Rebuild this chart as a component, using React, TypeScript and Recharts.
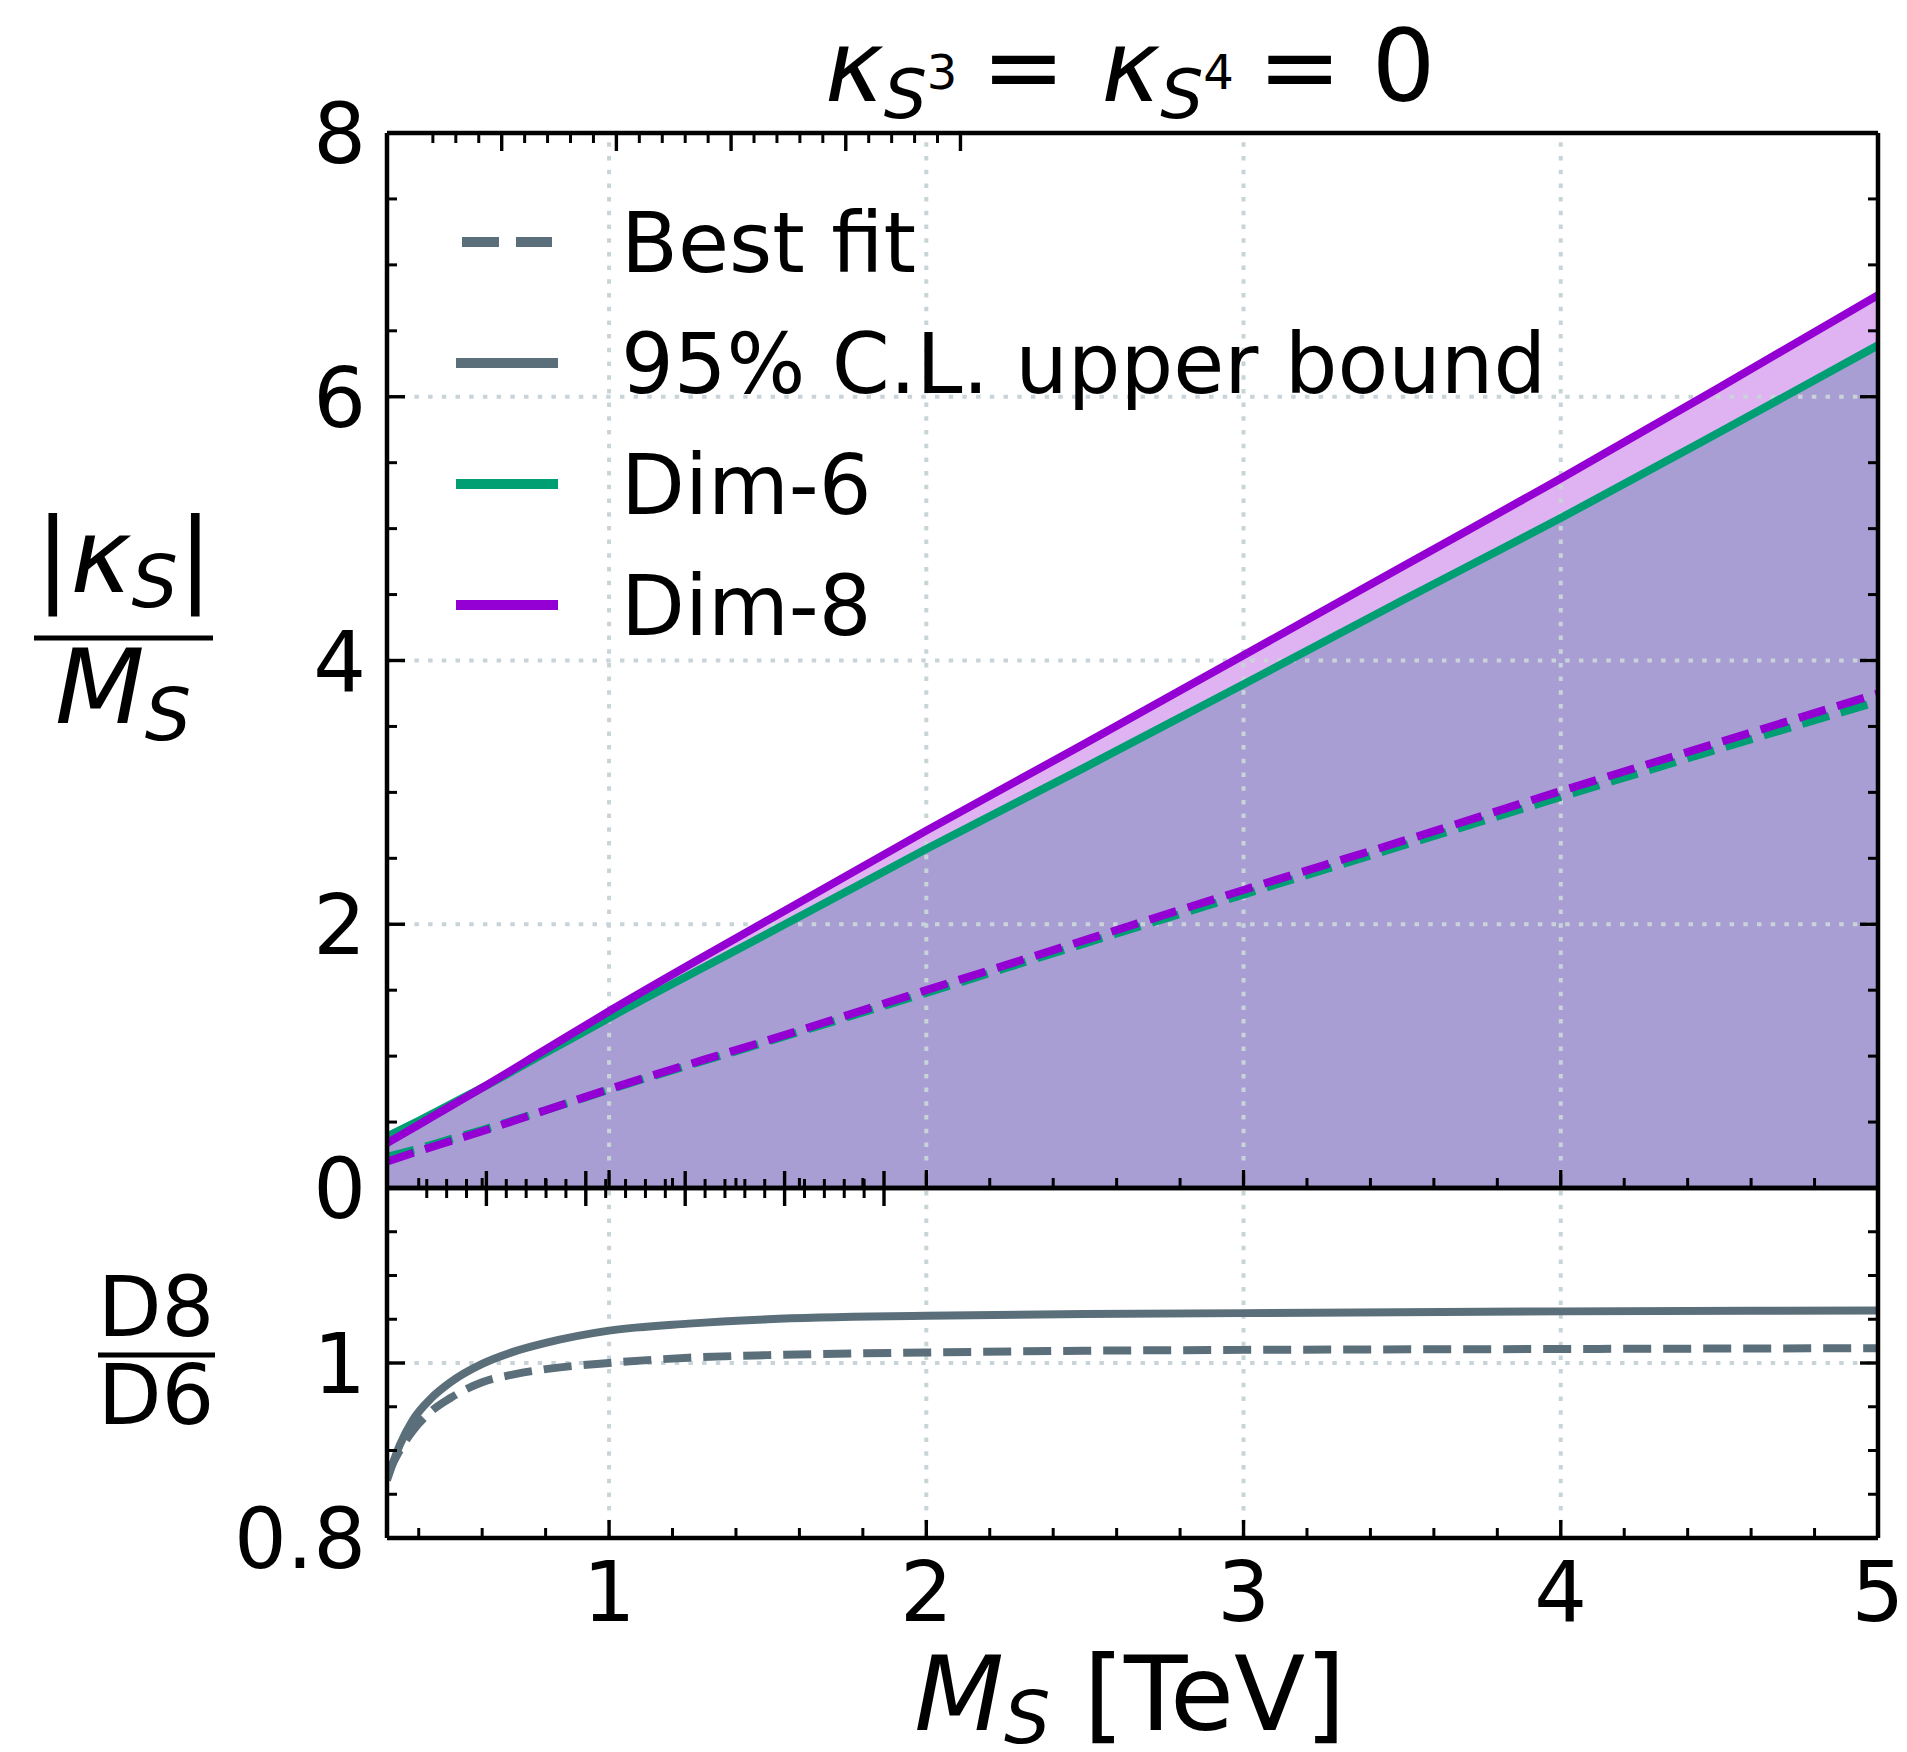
import React from 'react';
import { ComposedChart, Line, Area, XAxis, YAxis, ReferenceLine, Legend } from 'recharts';

const FONT = '"DejaVu Sans", "Noto Sans", sans-serif';

// Scalar mass M_S in TeV for the upper panel
const massGrid = [0.3, 0.4, 0.5, 0.6, 0.8, 1.0, 1.5, 2.0, 2.5, 3.0, 3.5, 4.0, 4.5, 5.0];
// |kappa_S| / M_S : 95% C.L. upper bounds
const dim6Upper = [0.39, 0.51, 0.635, 0.76, 1.025, 1.29, 1.93, 2.57, 3.19, 3.82, 4.455, 5.08, 5.73, 6.39];
const dim8Upper = [0.34, 0.48, 0.62, 0.76, 1.05, 1.34, 2.03, 2.71, 3.37, 4.04, 4.71, 5.38, 6.07, 6.77];
// |kappa_S| / M_S : best fit
const dim6Best = [0.235, 0.3, 0.37, 0.44, 0.59, 0.745, 1.11, 1.48, 1.855, 2.225, 2.595, 2.965, 3.33, 3.69];
const dim8Best = [0.2, 0.28, 0.355, 0.43, 0.59, 0.75, 1.12, 1.5, 1.88, 2.26, 2.63, 3.01, 3.38, 3.75];

// Ratio panel D8/D6
const ratioMass = [0.3, 0.34, 0.38, 0.44, 0.5, 0.6, 0.7, 0.8, 1.0, 1.25, 1.5, 2.0, 2.5, 3.0, 4.0, 5.0];
const ratioUpper = [0.866, 0.906, 0.934, 0.96, 0.978, 0.999, 1.013, 1.023, 1.037, 1.045, 1.05, 1.054, 1.056, 1.057, 1.059, 1.06];
const ratioBest = [0.872, 0.9, 0.922, 0.945, 0.96, 0.978, 0.987, 0.993, 1.0, 1.006, 1.009, 1.012, 1.014, 1.015, 1.016, 1.017];

// Axis ticks (ascending); majors are the labelled positions
const xTicksAll = [0.4, 0.6, 0.8, 1, 1.2, 1.4, 1.6, 1.8, 2, 2.2, 2.4, 2.6, 2.8, 3, 3.2, 3.4, 3.6, 3.8, 4, 4.2, 4.4, 4.6, 4.8, 5];
const xMajorTicks = [1, 2, 3, 4, 5];
const kappaTicksAll = [0, 0.5, 1, 1.5, 2, 2.5, 3, 3.5, 4, 4.5, 5, 5.5, 6, 6.5, 7, 7.5, 8];
const kappaMajorTicks = [0, 2, 4, 6, 8];
const ratioTicksAll = [0.8, 0.85, 0.9, 0.95, 1.0, 1.05, 1.1, 1.15, 1.2];
const ratioMajorTicks = [0.8, 1.0, 1.2];
const ratioLabelTicks = [0.8, 1.0];
const xGridLines = [1, 2, 3, 4];
const kappaGridLines = [2, 4, 6];
const ratioGridLines = [1.0];

const legendLabels = ['Best fit', '95% C.L. upper bound', 'Dim-6', 'Dim-8'];

const GRAY = '#5b6f7a';
const GREEN = '#009E73';
const PURPLE = '#9400D3';
const GRID = '#c9d4d9';
const LW = 8;

const upperData = massGrid.map((m, i) => ({
  m,
  dim6Upper: dim6Upper[i],
  dim8Upper: dim8Upper[i],
  dim6Best: dim6Best[i],
  dim8Best: dim8Best[i],
}));

const ratioData = ratioMass.map((m, i) => ({
  m,
  ratioUpper: ratioUpper[i],
  ratioBest: ratioBest[i],
}));

// 'shared' is the top edge of the ratio panel, whose ticks reach into both panels
type Side = 'bottom' | 'top' | 'shared' | 'left' | 'right';

const near = (list: number[], v: number) => list.some((t) => Math.abs(t - v) < 1e-6);

function makeTick(side: Side, majors: number[], labels: number[], fmt: (v: number) => string) {
  return function Tick(props: any) {
    const { x, y, payload } = props;
    const v = Number(payload.value);
    const isMajor = near(majors, v);
    const len = isMajor ? 18 : 10;
    const sw = isMajor ? 3.4 : 3;
    let y1 = y;
    let x2 = x;
    let y2 = y;
    if (side === 'bottom') y2 = y - len;
    else if (side === 'top') y2 = y + len;
    else if (side === 'shared') {
      y1 = y - len + 1;
      y2 = y + len;
    } else if (side === 'left') x2 = x + len;
    else x2 = x - len;
    const showLabel = near(labels, v);
    return (
      <g>
        <line x1={x} y1={y1} x2={x2} y2={y2} stroke="#000" strokeWidth={sw} />
        {showLabel && side === 'bottom' && (
          <text x={x} y={y + 83} textAnchor="middle" fontSize={83} fontFamily={FONT} fill="#000">
            {fmt(v)}
          </text>
        )}
        {showLabel && side === 'left' && (
          <text x={x - 21} y={y + 30} textAnchor="end" fontSize={83} fontFamily={FONT} fill="#000">
            {fmt(v)}
          </text>
        )}
      </g>
    );
  };
}

const fmtInt = (v: number) => String(Math.round(v));
const fmtRatio = (v: number) => (Math.abs(v - 1) < 1e-6 ? '1' : v.toFixed(1));

const axisLine = { stroke: '#000', strokeWidth: 4.5 };

// Axis boxes are 1px thick; the margins below are reduced by that amount
const AX = 1;

function LegendBox() {
  // rows: dashed gray, solid gray, green, purple
  const rows = [62, 183, 304, 425];
  const styles = [
    { stroke: GRAY, dash: '37 17', x1: 22, x2: 112 },
    { stroke: GRAY, dash: undefined, x1: 16, x2: 118 },
    { stroke: GREEN, dash: undefined, x1: 16, x2: 118 },
    { stroke: PURPLE, dash: undefined, x1: 16, x2: 118 },
  ];
  return (
    <svg width={1300} height={480} style={{ display: 'block', overflow: 'visible' }}>
      {legendLabels.map((label, i) => (
        <g key={label}>
          <line
            x1={styles[i].x1}
            x2={styles[i].x2}
            y1={rows[i]}
            y2={rows[i]}
            stroke={styles[i].stroke}
            strokeWidth={10}
            strokeDasharray={styles[i].dash}
          />
          <text x={181} y={rows[i] + 30} fontSize={83} fontFamily={FONT} fill="#000">
            {label}
          </text>
        </g>
      ))}
    </svg>
  );
}

function GridLines(xs: number[], ys: number[]) {
  return [
    ...xs.map((v) => (
      <ReferenceLine key={`gx${v}`} x={v} stroke={GRID} strokeWidth={4} strokeDasharray="4.5 9.2" />
    )),
    ...ys.map((v) => (
      <ReferenceLine key={`gy${v}`} y={v} stroke={GRID} strokeWidth={4} strokeDasharray="4.5 9.2" />
    )),
  ];
}

function Axes(props: {
  yDomain: [number, number];
  yTicks: number[];
  yMajors: number[];
  yLabels: number[];
  yFmt: (v: number) => string;
  xLabels: number[];
  topSide: Side;
}) {
  const { yDomain, yTicks, yMajors, yLabels, yFmt, xLabels, topSide } = props;
  return [
    <XAxis
      key="xb"
      dataKey="m"
      type="number"
      domain={[0.3, 5]}
      allowDataOverflow
      ticks={xTicksAll}
      interval={0}
      height={AX}
      tickSize={0}
      tickMargin={0}
      tickLine={false}
      axisLine={axisLine}
      tick={makeTick('bottom', xMajorTicks, xLabels, fmtInt)}
    />,
    <XAxis
      key="xt"
      xAxisId="top"
      orientation="top"
      type="number"
      domain={[0.3, 5]}
      allowDataOverflow
      ticks={xTicksAll}
      interval={0}
      height={AX}
      tickSize={0}
      tickMargin={0}
      tickLine={false}
      axisLine={axisLine}
      tick={makeTick(topSide, xMajorTicks, [], fmtInt)}
    />,
    <YAxis
      key="yl"
      type="number"
      domain={yDomain}
      allowDataOverflow
      ticks={yTicks}
      interval={0}
      width={AX}
      tickSize={0}
      tickMargin={0}
      tickLine={false}
      axisLine={axisLine}
      tick={makeTick('left', yMajors, yLabels, yFmt)}
    />,
    <YAxis
      key="yr"
      yAxisId="right"
      orientation="right"
      type="number"
      domain={yDomain}
      allowDataOverflow
      ticks={yTicks}
      interval={0}
      width={AX}
      tickSize={0}
      tickMargin={0}
      tickLine={false}
      axisLine={axisLine}
      tick={makeTick('right', yMajors, [], yFmt)}
    />,
  ];
}

function UpperPanel() {
  return (
    <ComposedChart
      width={1907}
      height={1260}
      data={upperData}
      margin={{ top: 133 - AX, right: 29 - AX, bottom: 72 - AX, left: 387 - AX }}
    >
      <Area dataKey="dim6Upper" type="monotone" fill={GREEN} fillOpacity={0.3} stroke="none" isAnimationActive={false} />
      <Area dataKey="dim8Upper" type="monotone" fill={PURPLE} fillOpacity={0.3} stroke="none" isAnimationActive={false} />
      {GridLines(xGridLines, kappaGridLines)}
      <Line dataKey="dim6Upper" type="monotone" stroke={GREEN} strokeWidth={LW} dot={false} activeDot={false} isAnimationActive={false} />
      <Line dataKey="dim8Upper" type="monotone" stroke={PURPLE} strokeWidth={LW} dot={false} activeDot={false} isAnimationActive={false} />
      <Line dataKey="dim6Best" type="monotone" stroke={GREEN} strokeWidth={LW} strokeDasharray="28 12" dot={false} activeDot={false} isAnimationActive={false} />
      <Line dataKey="dim8Best" type="monotone" stroke={PURPLE} strokeWidth={LW} strokeDasharray="28 12" dot={false} activeDot={false} isAnimationActive={false} />
      {Axes({
        yDomain: [0, 8],
        yTicks: kappaTicksAll,
        yMajors: kappaMajorTicks,
        yLabels: kappaMajorTicks,
        yFmt: fmtInt,
        xLabels: [],
        topSide: 'top',
      })}
      <Legend
        layout="vertical"
        align="center"
        verticalAlign="middle"
        wrapperStyle={{ position: 'absolute', left: 440, top: 180, width: 1300, height: 480 }}
        content={() => <LegendBox />}
      />
    </ComposedChart>
  );
}

function RatioPanel() {
  return (
    <ComposedChart
      width={1907}
      height={652}
      data={ratioData}
      margin={{ top: 88 - AX, right: 29 - AX, bottom: 214 - AX, left: 387 - AX }}
    >
      {GridLines(xGridLines, ratioGridLines)}
      <Line dataKey="ratioUpper" type="monotone" stroke={GRAY} strokeWidth={LW} dot={false} activeDot={false} isAnimationActive={false} />
      <Line dataKey="ratioBest" type="monotone" stroke={GRAY} strokeWidth={LW} strokeDasharray="28 12" dot={false} activeDot={false} isAnimationActive={false} />
      {Axes({
        yDomain: [0.8, 1.2],
        yTicks: ratioTicksAll,
        yMajors: ratioMajorTicks,
        yLabels: ratioLabelTicks,
        yFmt: fmtRatio,
        xLabels: xMajorTicks,
        topSide: 'shared',
      })}
    </ComposedChart>
  );
}

function Labels() {
  return (
    <svg width={1907} height={1752} style={{ position: 'absolute', left: 0, top: 0, pointerEvents: 'none' }}>
      {/* title */}
      <text x={1130} y={101} textAnchor="middle" fontSize={100} fontFamily={FONT} fill="#000">
        <tspan fontStyle="italic">κ</tspan>
        <tspan fontStyle="italic" fontSize={68} dy={17}>S</tspan>
        <tspan fontSize={48} dy={-29}>3</tspan>
        <tspan dy={12} dx={24}>=</tspan>
        <tspan fontStyle="italic" dx={36}>κ</tspan>
        <tspan fontStyle="italic" fontSize={68} dy={17}>S</tspan>
        <tspan fontSize={48} dy={-29}>4</tspan>
        <tspan dy={12} dx={24}>=</tspan>
        <tspan dx={30}>0</tspan>
      </text>

      {/* upper y label: |kappa_S| / M_S */}
      <text x={124} y={592} textAnchor="middle" fontSize={104} fontFamily={FONT} fill="#000">
        <tspan>|</tspan>
        <tspan fontStyle="italic">κ</tspan>
        <tspan fontStyle="italic" fontSize={73} dy={15}>S</tspan>
        <tspan dy={-15}>|</tspan>
      </text>
      <line x1={34} x2={213} y1={638} y2={638} stroke="#000" strokeWidth={5} />
      <text x={123} y={723} textAnchor="middle" fontSize={104} fontFamily={FONT} fill="#000">
        <tspan fontStyle="italic">M</tspan>
        <tspan fontStyle="italic" fontSize={73} dy={17}>S</tspan>
      </text>

      {/* ratio y label: D8 / D6 */}
      <text x={156} y={1336} textAnchor="middle" fontSize={83} fontFamily={FONT} fill="#000">D8</text>
      <line x1={98} x2={215} y1={1355} y2={1355} stroke="#000" strokeWidth={5} />
      <text x={156} y={1424} textAnchor="middle" fontSize={83} fontFamily={FONT} fill="#000">D6</text>

      {/* x label */}
      <text x={1130} y={1730} textAnchor="middle" fontSize={104} fontFamily={FONT} fill="#000">
        <tspan fontStyle="italic">M</tspan>
        <tspan fontStyle="italic" fontSize={73} dy={13}>S</tspan>
        <tspan dy={-13}>{' [TeV]'}</tspan>
      </text>
    </svg>
  );
}

export default function App() {
  return (
    <div
      style={{
        position: 'absolute',
        left: 0,
        top: 0,
        width: 1907,
        height: 1752,
        background: '#fff',
        fontFamily: FONT,
        overflow: 'hidden',
      }}
    >
      <div style={{ position: 'absolute', left: 0, top: 0 }}>
        <UpperPanel />
      </div>
      <div style={{ position: 'absolute', left: 0, top: 1100 }}>
        <RatioPanel />
      </div>
      <Labels />
    </div>
  );
}
